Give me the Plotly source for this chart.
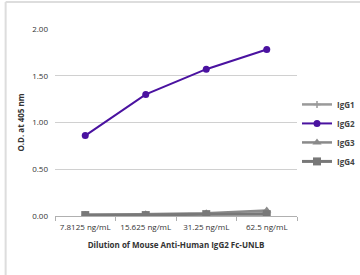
import plotly.graph_objects as go

categories = ["7.8125 ng/mL", "15.625 ng/mL", "31.25 ng/mL", "62.5 ng/mL"]
igg1 = [0.01, 0.01, 0.02, 0.03]
igg2 = [0.86, 1.30, 1.57, 1.78]
igg3 = [0.01, 0.02, 0.03, 0.06]
igg4 = [0.01, 0.01, 0.02, 0.02]
y_ticks = [0, 0.5, 1.0, 1.5, 2.0]
y_tick_labels = ["0.00", "0.50", "1.00", "1.50", "2.00"]

fig = go.Figure()
fig.add_trace(go.Scatter(x=categories, y=igg1, name="IgG1", mode="lines+markers",
                         line=dict(color="#9a9a9a", width=2.5),
                         marker=dict(symbol="cross-thin", size=5, color="#9a9a9a",
                                     line=dict(color="#9a9a9a", width=1.5))))
fig.add_trace(go.Scatter(x=categories, y=igg2, name="IgG2", mode="lines+markers",
                         line=dict(color="#4a12a0", width=2),
                         marker=dict(symbol="circle", size=7, color="#4a12a0")))
fig.add_trace(go.Scatter(x=categories, y=igg3, name="IgG3", mode="lines+markers",
                         line=dict(color="#8a8a8a", width=2.5),
                         marker=dict(symbol="triangle-up", size=8, color="#8a8a8a")))
fig.add_trace(go.Scatter(x=categories, y=igg4, name="IgG4", mode="lines+markers",
                         line=dict(color="#787878", width=3),
                         marker=dict(symbol="square", size=8, color="#787878")))

fig.add_shape(type="line", xref="paper", yref="paper", x0=-0.204, x1=1.3, y0=1.144, y1=1.144,
              line=dict(color="#dddddd", width=2))
fig.add_shape(type="line", xref="paper", yref="paper", x0=-0.204, x1=-0.204, y0=1.144, y1=-0.35,
              line=dict(color="#dddddd", width=2))

fig.update_layout(
    width=360, height=275,
    margin=dict(l=55, r=60, t=29, b=59),
    paper_bgcolor="white", plot_bgcolor="white",
    font=dict(family="Open Sans", size=8, color="#333333"),
    showlegend=True,
    legend=dict(xref="container", yref="container", x=0.825, y=0.673,
                xanchor="left", yanchor="top",
                font=dict(size=8, color="#444444", family="Open Sans", weight="bold"),
                tracegroupgap=0, itemwidth=30, bgcolor="rgba(0,0,0,0)"),
    xaxis=dict(type="category", range=[-0.5, 3.5], showgrid=False,
               showline=True, linecolor="#b0b0b0", linewidth=1,
               ticks="outside", tickson="boundaries", ticklen=4, tickcolor="#b0b0b0",
               tickangle=0, automargin=False, ticklabelstandoff=3,
               tickfont=dict(size=8, color="#333333"),
               title=dict(text="<b>Dilution of Mouse Anti-Human IgG2 Fc-UNLB</b>",
                          font=dict(size=8, color="#333333"), standoff=11)),
    yaxis=dict(range=[0, 2.0], tickvals=y_ticks, ticktext=y_tick_labels, automargin=False,
               showgrid=True, gridcolor="#d0d0d0", gridwidth=1, zeroline=False,
               showline=False, ticks="", ticklabelstandoff=6,
               tickfont=dict(size=8, color="#333333"),
               title=dict(text="<b>O.D. at 405 nm</b>", font=dict(size=8, color="#333333"),
                          standoff=6)),
)

fig.write_html("out.html", config={"displayModeBar": False},
               post_script="document.body.style.margin='0';")
